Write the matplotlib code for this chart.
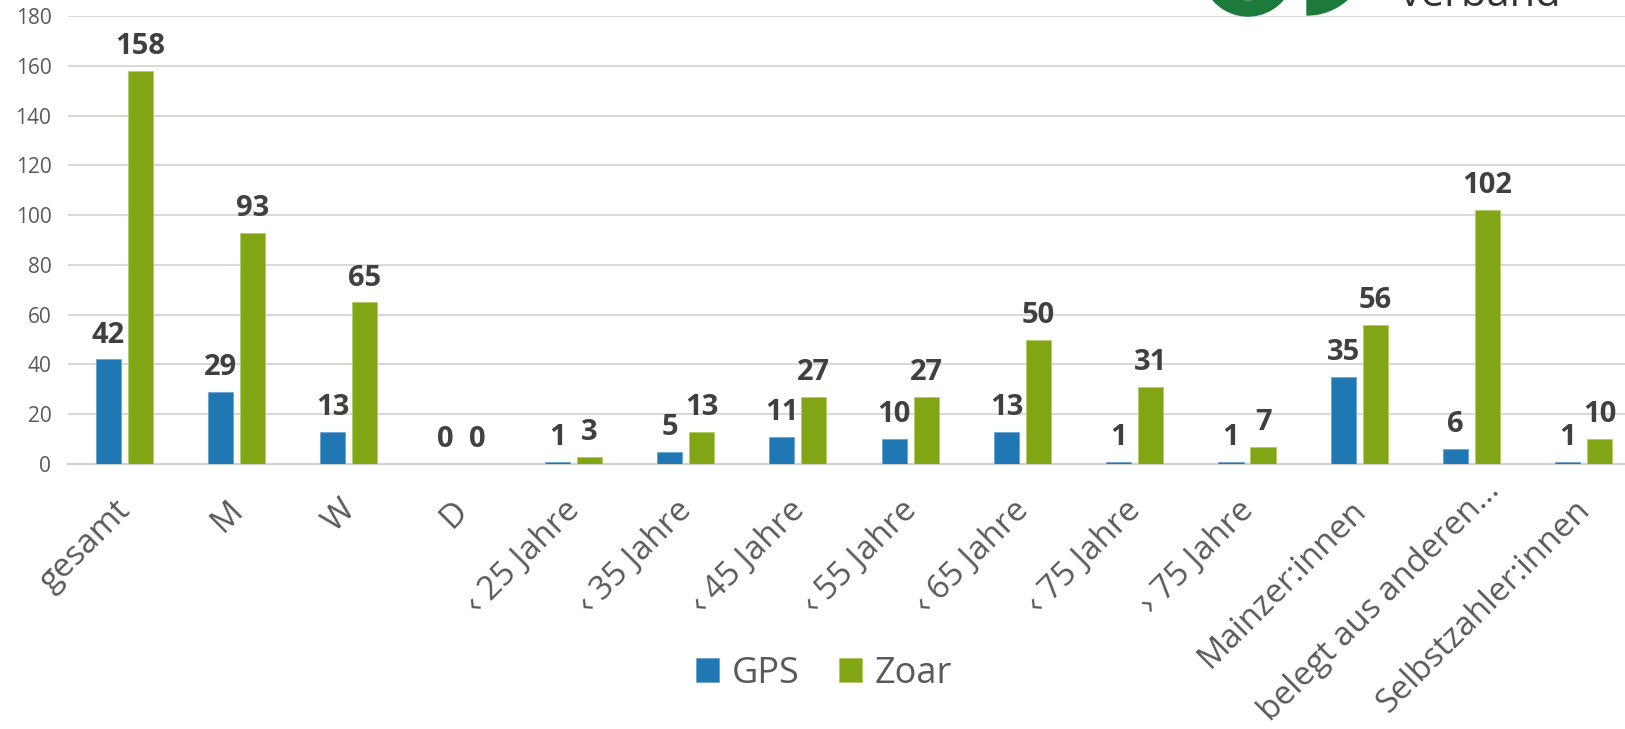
import matplotlib.pyplot as plt
from matplotlib.patches import Wedge
from matplotlib.transforms import ScaledTranslation

plt.rcParams['font.family'] = ['Open Sans', 'DejaVu Sans']

# data
categories = ['gesamt', 'M', 'W', 'D', '‹ 25 Jahre', '‹ 35 Jahre', '‹ 45 Jahre',
              '‹ 55 Jahre', '‹ 65 Jahre', '‹ 75 Jahre', '› 75 Jahre',
              'Mainzer:innen', 'belegt aus anderen…', 'Selbstzahler:innen']
gps = [42, 29, 13, 0, 1, 5, 11, 10, 13, 1, 1, 35, 6, 1]
zoar = [158, 93, 65, 0, 3, 13, 27, 27, 50, 31, 7, 56, 102, 10]
series_names = ['GPS', 'Zoar']
yticks = [0, 20, 40, 60, 80, 100, 120, 140, 160, 180]

blue = '#1f78b4'
green = '#82a515'
grid_col = '#d9d9d9'
text_col = '#595959'
label_col = '#404040'

fig = plt.figure(figsize=(16.25, 7.29), dpi=100)
W, H = 1625, 729
ax = fig.add_axes([68 / W, 1 - 464 / H, (1640 - 68) / W, (464 - 16) / H])

x = list(range(len(categories)))
bw = 0.225
off = 0.1425
b1 = ax.bar([i - off for i in x], gps, width=bw, color=blue, edgecolor='#6aa6d0',
            linewidth=0.6, label=series_names[0], zorder=3)
b2 = ax.bar([i + off for i in x], zoar, width=bw, color=green, edgecolor='#b2cc66',
            linewidth=0.6, label=series_names[1], zorder=3)

# value labels
for bars, vals in ((b1, gps), (b2, zoar)):
    for rect, v in zip(bars, vals):
        ax.annotate(str(v), (rect.get_x() + rect.get_width() / 2, v),
                    xytext=(0, 7), textcoords='offset points',
                    ha='center', va='bottom', fontsize=21, fontweight='bold',
                    color=label_col, zorder=4)

ax.set_xlim(-0.5, len(categories) - 0.5)
ax.set_ylim(0, 180)
ax.set_yticks(yticks)
ax.yaxis.grid(True, color=grid_col, linewidth=1.5, zorder=0)
ax.set_axisbelow(True)
for s in ('top', 'right', 'left'):
    ax.spines[s].set_visible(False)
ax.spines['bottom'].set_color('#d0d0d0')
ax.spines['bottom'].set_linewidth(1.5)
ax.tick_params(axis='y', length=0, pad=12, labelsize=15, labelcolor=text_col)
ax.tick_params(axis='x', length=0)

ax.set_xticks(x)
ax.set_xticklabels(categories, rotation=45, ha='right', va='top',
                   rotation_mode='anchor', fontsize=24, color=text_col)
shift = ScaledTranslation(-0.10, -0.25, fig.dpi_scale_trans)
# the truncated label sits a bit higher/right in the original
shift_long = ScaledTranslation(0.12, -0.05, fig.dpi_scale_trans)
for lbl in ax.get_xticklabels():
    if lbl.get_text().endswith('…'):
        lbl.set_transform(lbl.get_transform() + shift_long)
    else:
        lbl.set_transform(lbl.get_transform() + shift)

fig.legend(handles=[b1, b2], labels=series_names, loc='center',
           bbox_to_anchor=(824 / W, 1 - 674 / H), ncol=2, frameon=False,
           fontsize=26, labelcolor=text_col, handlelength=0.64, handleheight=0.64,
           handletextpad=0.35, columnspacing=1.1)

# cropped logo at the top right
lax = fig.add_axes([0, 0, 1, 1], zorder=5)
lax.set_xlim(0, W)
lax.set_ylim(H, 0)
lax.axis('off')
logo_green = '#1c7a3a'
lax.add_patch(Wedge((1248, -30), 46, 0, 180, width=15, color=logo_green))
lax.add_patch(Wedge((1307, -45), 60, 10, 90, width=15, color=logo_green))
lax.text(1400, 6, 'verband', fontsize=30, color='#333333', ha='left',
         va='baseline', clip_on=True)

fig.savefig('out.png', dpi=100)
